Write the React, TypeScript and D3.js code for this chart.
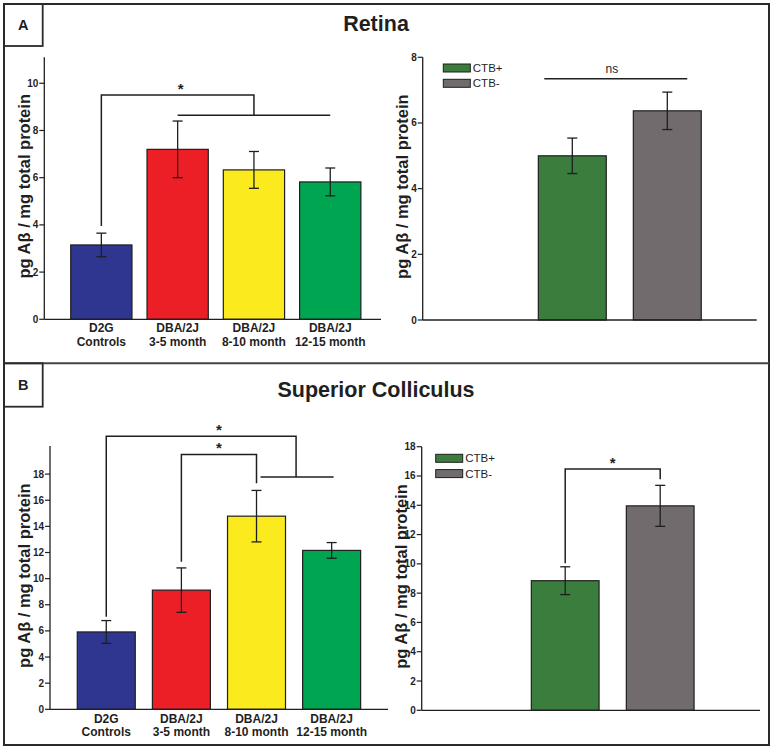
import React from "react";
import * as d3 from "d3";

// ---------- DATA ----------
const groupLabels: string[][] = [
  ["D2G", "Controls"],
  ["DBA/2J", "3-5 month"],
  ["DBA/2J", "8-10 month"],
  ["DBA/2J", "12-15 month"],
];
const groupColors = ["#2E3690", "#EC1F27", "#FBEB1E", "#00A551"];

const retinaGroupMeans = [3.15, 7.2, 6.33, 5.82];
const retinaGroupErr = [0.5, 1.2, 0.78, 0.59];
const scGroupMeans = [5.92, 9.12, 14.78, 12.16];
const scGroupErr = [0.87, 1.7, 1.97, 0.6];

const ctbLabels = ["CTB+", "CTB-"];
const ctbColors = ["#3A7D3D", "#716B6E"];
const retinaCtbMeans = [5.0, 6.37];
const retinaCtbErr = [0.54, 0.57];
const scCtbMeans = [8.85, 13.96];
const scCtbErr = [0.95, 1.4];

const retinaGroupTicks = [0, 2, 4, 6, 8, 10];
const retinaCtbTicks = [0, 2, 4, 6, 8];
const scTicks = [0, 2, 4, 6, 8, 10, 12, 14, 16, 18];

const panelTitles = ["Retina", "Superior Colliculus"];
const panelLetters = ["A", "B"];
const yAxisLabel = "pg Aβ / mg total protein";

const FONT = "Arial, 'Liberation Sans', Helvetica, sans-serif";
const INK = "#1f1f1f";

type Frame = {
  x0: number; // y-axis x
  x1: number; // x-axis end
  y0: number; // pixel of 0
  yTop: number; // pixel of axis top
  yMax: number; // value at axis top
  bandStart: number;
  bandEnd: number;
  padInner: number;
};

function makeScales(f: Frame, n: number) {
  const y = d3.scaleLinear().domain([0, f.yMax]).range([f.y0, f.yTop]);
  const x = d3
    .scaleBand<number>()
    .domain(d3.range(n))
    .range([f.bandStart, f.bandEnd])
    .paddingInner(f.padInner)
    .paddingOuter(f.padInner / 2);
  return { x, y };
}

function Axes({ f, y, ticks, labelX }: { f: Frame; y: d3.ScaleLinear<number, number>; ticks: number[]; labelX: number }) {
  const midY = (f.y0 + f.yTop) / 2 - 2;
  return (
    <g>
      <line x1={f.x0} x2={f.x0} y1={f.yTop} y2={f.y0} stroke={INK} strokeWidth={1.3} />
      <line x1={f.x0} x2={f.x1} y1={f.y0} y2={f.y0} stroke={INK} strokeWidth={1.3} />
      {ticks.map((t) => (
        <g key={t}>
          <line x1={f.x0 - 5} x2={f.x0} y1={y(t)} y2={y(t)} stroke={INK} strokeWidth={1.2} />
          <text x={f.x0 - 6} y={y(t)} dy="0.35em" textAnchor="end" fontSize={10} fontWeight="bold" fill={INK} fontFamily={FONT}>
            {t}
          </text>
        </g>
      ))}
      <text
        transform={`translate(${labelX},${midY}) rotate(-90)`}
        textAnchor="middle"
        dy="0.35em"
        fontSize={16.5}
        fontWeight="bold"
        fill={INK}
        fontFamily={FONT}
      >
        {yAxisLabel}
      </text>
    </g>
  );
}

function Bars({
  x, y, means, errs, colors,
}: {
  x: d3.ScaleBand<number>; y: d3.ScaleLinear<number, number>; means: number[]; errs: number[]; colors: string[];
}) {
  const bw = x.bandwidth();
  return (
    <g>
      {means.map((m, i) => {
        const cx = (x(i) as number) + bw / 2;
        return (
          <g key={i}>
            <rect x={x(i)} y={y(m)} width={bw} height={y(0) - y(m)} fill={colors[i]} stroke={INK} strokeWidth={1.2} />
            <line x1={cx} x2={cx} y1={y(m + errs[i])} y2={y(m - errs[i])} stroke={INK} strokeWidth={1.3} />
            <line x1={cx - 5} x2={cx + 5} y1={y(m + errs[i])} y2={y(m + errs[i])} stroke={INK} strokeWidth={1.3} />
            <line x1={cx - 5} x2={cx + 5} y1={y(m - errs[i])} y2={y(m - errs[i])} stroke={INK} strokeWidth={1.3} />
          </g>
        );
      })}
    </g>
  );
}

function CatLabels({ x, y0, labels, dy1, dy2 }: { x: d3.ScaleBand<number>; y0: number; labels: string[][]; dy1: number; dy2: number }) {
  const bw = x.bandwidth();
  return (
    <g>
      {labels.map((l, i) => (
        <text key={i} x={(x(i) as number) + bw / 2} textAnchor="middle" fontSize={12} fontWeight="bold" fill={INK} fontFamily={FONT}>
          <tspan x={(x(i) as number) + bw / 2} y={y0 + dy1}>{l[0]}</tspan>
          <tspan x={(x(i) as number) + bw / 2} y={y0 + dy2}>{l[1]}</tspan>
        </text>
      ))}
    </g>
  );
}

function Legend({ x, y }: { x: number; y: number }) {
  return (
    <g>
      {ctbLabels.map((l, i) => (
        <g key={l}>
          <rect x={x} y={y + i * 15.3} width={27} height={8} fill={ctbColors[i]} stroke={INK} strokeWidth={1} />
          <text x={x + 29.5} y={y + i * 15.3 + 4} dy="0.36em" fontSize={11.5} fill={INK} fontFamily={FONT}>
            {l}
          </text>
        </g>
      ))}
    </g>
  );
}

function Star({ x, y }: { x: number; y: number }) {
  return (
    <text x={x} y={y} textAnchor="middle" fontSize={15} fontWeight="bold" fill={INK} fontFamily={FONT}>
      *
    </text>
  );
}

export default function App() {
  // Panel A left
  const fAL: Frame = { x0: 44.3, x1: 381, y0: 319.3, yTop: 57.3, yMax: 11.1, bandStart: 63.2, bandEnd: 368.4, padInner: 0.197 };
  const sAL = makeScales(fAL, 4);
  // Panel A right
  const fAR: Frame = { x0: 422.7, x1: 756.7, y0: 320, yTop: 57.3, yMax: 8, bandStart: 524.8, bandEnd: 714.8, padInner: 0.285 };
  const sAR = makeScales(fAR, 2);
  // Panel B left
  const fBL: Frame = { x0: 50, x1: 388, y0: 709.3, yTop: 446, yMax: 20.15, bandStart: 68.7, bandEnd: 369.2, padInner: 0.228 };
  const sBL = makeScales(fBL, 4);
  // Panel B right
  const fBR: Frame = { x0: 421.7, x1: 760, y0: 710.3, yTop: 446.7, yMax: 18, bandStart: 517.7, bandEnd: 707.7, padInner: 0.287 };
  const sBR = makeScales(fBR, 2);

  const cAL = (i: number) => (sAL.x(i) as number) + sAL.x.bandwidth() / 2;
  const cAR = (i: number) => (sAR.x(i) as number) + sAR.x.bandwidth() / 2;
  const cBL = (i: number) => (sBL.x(i) as number) + sBL.x.bandwidth() / 2;
  const cBR = (i: number) => (sBR.x(i) as number) + sBR.x.bandwidth() / 2;

  const br = { fill: "none", stroke: INK, strokeWidth: 1.5 };

  return (
    <svg width={773} height={750} style={{ position: "absolute", left: 0, top: 0, background: "#fff" }}>
      <rect x={0} y={0} width={773} height={750} fill="#fff" />
      {/* panel frames */}
      <rect x={4} y={4} width={765} height={741} fill="none" stroke="#2a2a2a" strokeWidth={2} />
      <line x1={4} x2={769} y1={363.3} y2={363.3} stroke="#444" strokeWidth={2} />
      <rect x={4} y={4} width={38.7} height={42} fill="none" stroke="#2a2a2a" strokeWidth={1.8} />
      <rect x={4} y={363.3} width={38.7} height={43.4} fill="none" stroke="#2a2a2a" strokeWidth={1.8} />
      <text x={23.3} y={25} dy="0.35em" textAnchor="middle" fontSize={14.5} fontWeight="bold" fill={INK} fontFamily={FONT}>
        {panelLetters[0]}
      </text>
      <text x={23.3} y={385} dy="0.35em" textAnchor="middle" fontSize={14.5} fontWeight="bold" fill={INK} fontFamily={FONT}>
        {panelLetters[1]}
      </text>
      <text x={376} y={30.7} textAnchor="middle" fontSize={21.5} fontWeight="bold" fill={INK} fontFamily={FONT}>
        {panelTitles[0]}
      </text>
      <text x={376} y={396.7} textAnchor="middle" fontSize={21.5} fontWeight="bold" fill={INK} fontFamily={FONT}>
        {panelTitles[1]}
      </text>

      {/* ---- A left ---- */}
      <Bars x={sAL.x} y={sAL.y} means={retinaGroupMeans} errs={retinaGroupErr} colors={groupColors} />
      <Axes f={fAL} y={sAL.y} ticks={retinaGroupTicks} labelX={24} />
      <CatLabels x={sAL.x} y0={fAL.y0} labels={groupLabels} dy1={13} dy2={26.4} />
      <path
        d={`M${cAL(0)},${sAL.y(3.95)}V${sAL.y(9.5)}H${cAL(2)}V${sAL.y(8.64)}`}
        {...br}
      />
      <line x1={cAL(1)} x2={cAL(3)} y1={sAL.y(8.64)} y2={sAL.y(8.64)} {...br} />
      <Star x={(cAL(0) + cAL(2)) / 2 + 3} y={sAL.y(9.5) - 1} />

      {/* ---- A right ---- */}
      <Bars x={sAR.x} y={sAR.y} means={retinaCtbMeans} errs={retinaCtbErr} colors={ctbColors} />
      <Axes f={fAR} y={sAR.y} ticks={retinaCtbTicks} labelX={402} />
      <Legend x={fAR.x0 + 20.6} y={fAR.yTop + 6.7} />
      <line x1={(sAR.x(0) as number) + 6} x2={(sAR.x(1) as number) + sAR.x.bandwidth() - 14} y1={sAR.y(7.35)} y2={sAR.y(7.35)} {...br} />
      <text x={(cAR(0) + cAR(1)) / 2 - 8} y={sAR.y(7.35) - 6} textAnchor="middle" fontSize={12} fill={INK} fontFamily={FONT}>
        ns
      </text>

      {/* ---- B left ---- */}
      <Bars x={sBL.x} y={sBL.y} means={scGroupMeans} errs={scGroupErr} colors={groupColors} />
      <Axes f={fBL} y={sBL.y} ticks={scTicks} labelX={24} />
      <CatLabels x={sBL.x} y0={fBL.y0} labels={groupLabels} dy1={14} dy2={26.7} />
      <path
        d={`M${cBL(0)},${sBL.y(7.08)}V${sBL.y(20.9)}H${(cBL(2) + cBL(3)) / 2 + 2}V${sBL.y(17.77)}`}
        {...br}
      />
      <line x1={cBL(2) + 4} x2={cBL(3) + 2} y1={sBL.y(17.77)} y2={sBL.y(17.77)} {...br} />
      <Star x={(cBL(1) + cBL(2)) / 2} y={sBL.y(20.9) - 1} />
      <path d={`M${cBL(1)},${sBL.y(11.29)}V${sBL.y(19.5)}H${cBL(2)}V${sBL.y(17.29)}`} {...br} />
      <Star x={(cBL(1) + cBL(2)) / 2} y={sBL.y(19.5) - 1} />

      {/* ---- B right ---- */}
      <Bars x={sBR.x} y={sBR.y} means={scCtbMeans} errs={scCtbErr} colors={ctbColors} />
      <Axes f={fBR} y={sBR.y} ticks={scTicks} labelX={401} />
      <Legend x={fBR.x0 + 14} y={fBR.yTop + 7.6} />
      <path d={`M${cBR(0)},${sBR.y(10.04)}V${sBR.y(16.48)}H${cBR(1)}V${sBR.y(15.78)}`} {...br} />
      <Star x={(cBR(0) + cBR(1)) / 2} y={sBR.y(16.48) - 1} />
    </svg>
  );
}
